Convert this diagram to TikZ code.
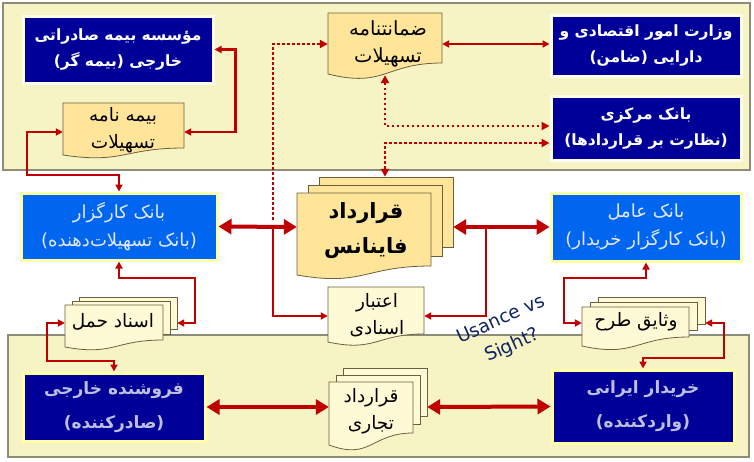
\documentclass[tikz,border=0pt]{standalone}
\usepackage{fontspec}
\usetikzlibrary{arrows.meta}
\TeXXeTstate=1
\newfontfamily\farsifont[Script=Arabic]{DejaVu Sans}
\newfontfamily\latinfont{DejaVu Sans}
\newcommand\rl[1]{{\farsifont\beginR #1\endR}}
\definecolor{dblue}{RGB}{0,0,153}
\definecolor{bblue}{RGB}{0,102,240}
\definecolor{panel}{RGB}{246,244,196}
\definecolor{panelline}{RGB}{140,140,120}
\definecolor{docfill}{RGB}{255,229,153}
\definecolor{creamfill}{RGB}{255,250,214}
\definecolor{docline}{RGB}{110,95,60}
\definecolor{arr}{RGB}{192,0,0}
\definecolor{haloY}{RGB}{255,255,165}
\definecolor{haloW}{RGB}{252,252,238}
\definecolor{greytext}{RGB}{190,190,222}
\definecolor{lighttext}{RGB}{228,232,255}
\definecolor{navy}{RGB}{15,35,100}
\newcommand\docshape[6]{%
  \path[docstyle, fill=#1] (#2,#3) -- (#4,#3) -- (#4,#5) .. controls ({(#2+#4)/2},#5) and ({(#2+#4)/2},{#5+2.3*(#6-#5)}) .. (#2,#6) -- cycle;}
\newcommand\multidoc[8]{%
  \path[docstyle, fill=#1] ({#2+2*#7},{#3-2*#8}) rectangle ({#4+2*#7},{#5-2*#8-3});
  \path[docstyle, fill=#1] ({#2+#7},{#3-#8}) rectangle ({#4+#7},{#5-#8-2});
  \docshape{#1}{#2}{#3}{#4}{#5}{#6}}
\tikzset{
  docstyle/.style={draw=docline, line width=0.8},
  frame/.style={rectangle, inner sep=0, draw=none},
  darkbox/.style={rectangle, fill=dblue, draw=haloW, line width=3, inner sep=0, align=center,
     text=white, font=\bfseries\fontsize{15.5}{26}\selectfont},
  bankbox/.style={rectangle, fill=bblue, draw=haloY, line width=3, inner sep=0, align=center,
     text=lighttext, font=\fontsize{18}{28}\selectfont},
  partybox/.style={rectangle, fill=dblue, draw=haloY, line width=3, inner sep=0, align=center,
     text=greytext, font=\bfseries\fontsize{17}{34}\selectfont},
  doctext/.style={inner sep=0, align=center, text=black, font=\fontsize{18.5}{27}\selectfont},
  thinarr/.style={draw=arr, line width=2.2, {Triangle[length=7pt,width=7pt]}-{Triangle[length=7pt,width=7pt]}},
  thickarr/.style={draw=arr, line width=4, {Triangle[length=13pt,width=15pt]}-{Triangle[length=13pt,width=15pt]}},
  dotarr/.style={draw=arr, line width=2.6, dash pattern=on 2.6pt off 2.4pt,
     {Triangle[length=8pt,width=8pt]}-{Triangle[length=8pt,width=8pt]}},
}
\begin{document}
\begin{tikzpicture}[x=1pt,y=-1pt]
\path[use as bounding box] (0,0) rectangle (754,461);
% panels
\path[fill=panel, draw=panelline, line width=1.2] (3,3) rectangle (750,170);
\path[fill=panel, draw=panelline, line width=1.2] (8,335) rectangle (749,457);

% top boxes
\node[darkbox, minimum width=190, minimum height=67] (insco) at (118,49.5)
  {\rl{مؤسسه بیمه  صادراتی}\\\rl{خارجی (بیمه گر)}};
\node[darkbox, minimum width=190, minimum height=61] (vezarat) at (646,45.5)
  {\rl{وزارت امور اقتصادی و}\\\rl{دارایی (ضامن)}};
\node[darkbox, minimum width=190, minimum height=64] (markazi) at (646,128)
  {\rl{بانک مرکزی}\\\rl{(نظارت بر قراردادها)}};

% documents
\docshape{docfill}{63}{103}{184}{148}{155}
\node[frame, minimum width=121, minimum height=58] (bimeh) at (123.5,132) {};
\node[doctext] (bimehT) at (123,130) {\rl{بیمه نامه}\\\rl{تسهیلات}};

\docshape{docfill}{328}{13}{442}{63}{74}
\node[frame, minimum width=114, minimum height=62] (zem) at (385,44) {};
\node[doctext, font=\fontsize{19.5}{27}\selectfont] (zemT) at (388,44) {\rl{ضمانتنامه}\\\rl{تسهیلات}};

\multidoc{docfill}{297}{193}{431}{266}{275}{11}{8}
\node[frame, minimum width=156, minimum height=100] (fin) at (375,227) {};
\node[doctext, font=\bfseries\fontsize{21}{35}\selectfont] (finT) at (366,231) {\rl{قرارداد}\\\rl{فاینانس}};

\docshape{creamfill}{328}{287}{424}{334}{342}
\node[frame, minimum width=96, minimum height=58] (etebar) at (376,316) {};
\node[doctext] (etebarT) at (377,315) {\rl{اعتبار}\\\rl{اسنادی}};

\multidoc{creamfill}{65}{305}{163}{340}{347}{7}{4}
\node[frame, minimum width=112, minimum height=52] (asnad) at (121,323) {};
\node[doctext] (asnadT) at (113,322) {\rl{اسناد حمل}};

\multidoc{creamfill}{582}{307}{689}{337}{346}{8}{5}
\node[frame, minimum width=123, minimum height=52] (vas) at (643.5,323) {};
\node[doctext] (vasT) at (636,322) {\rl{وثایق طرح}};

\multidoc{creamfill}{329}{382}{413}{433}{445}{7}{7}
\node[frame, minimum width=98, minimum height=78] (tej) at (378,407) {};
\node[doctext] (tejT) at (371,411) {\rl{قرارداد}\\\rl{تجاری}};

% banks
\node[bankbox, minimum width=196, minimum height=67] (karg) at (119,226.5)
  {\rl{بانک کارگزار}\\\rl{(بانک تسهیلات^^^^200cدهنده)}};
\node[bankbox, minimum width=190, minimum height=68] (amel) at (646,227)
  {\rl{بانک عامل}\\\rl{(بانک کارگزار خریدار)}};

% parties
\node[partybox, minimum width=182, minimum height=68] (forosh) at (114,407)
  {\rl{فروشنده خارجی}\\\rl{(صادرکننده)}};
\node[partybox, minimum width=182, minimum height=73] (kharidar) at (643,406.5)
  {\rl{خریدار ایرانی}\\\rl{(واردکننده)}};

% usance
\node[rotate=24, text=navy, inner sep=0, align=center, font=\latinfont\fontsize{18.5}{28}\selectfont] (usance) at (507,333) {Usance vs\\Sight?};

% connectors
\draw[thinarr] (insco.east) -- ++(21,0) |- (bimeh.east);
\draw[thinarr] (bimeh.west) -| (27,175) -| (karg.north);
\draw[thinarr] (zem.east) -- (zem.east -| vezarat.west);
\coordinate (dotend) at (273,220);
\draw[draw=arr, line width=2.6, dash pattern=on 2.6pt off 2.4pt, -{Triangle[length=8pt,width=8pt]}] (dotend) |- (zem.west);
\draw[dotarr] (zem.south) |- ([yshift=2]markazi.west);
\draw[dotarr] ([yshift=-15]markazi.west) -| (fin.north -| zem.south);

\draw[thickarr] (karg.east) -- (fin.west);
\draw[thickarr] (fin.east) -- (amel.west);
\coordinate (jl) at (273,227);
\coordinate (jr) at (486,227);
\draw[draw=arr, line width=2.2, -{Triangle[length=7pt,width=7pt]}] (jl) |- (etebar.west);
\draw[draw=arr, line width=2.2, -{Triangle[length=7pt,width=7pt]}] (jr) |- (etebar.east);

\draw[thinarr] (karg.south) |- (195,278) |- (asnad.east);
\draw[thinarr] (asnad.west) -| (47,361) -| (forosh.north);
\draw[thinarr] (amel.south) |- (564,278) |- (vas.west);
\draw[thinarr] (vas.east) -| (724,358) -| (kharidar.north);

\draw[thickarr] (forosh.east) -- (tej.west);
\draw[thickarr] (tej.east) -- (kharidar.west);
\end{tikzpicture}
\end{document}
